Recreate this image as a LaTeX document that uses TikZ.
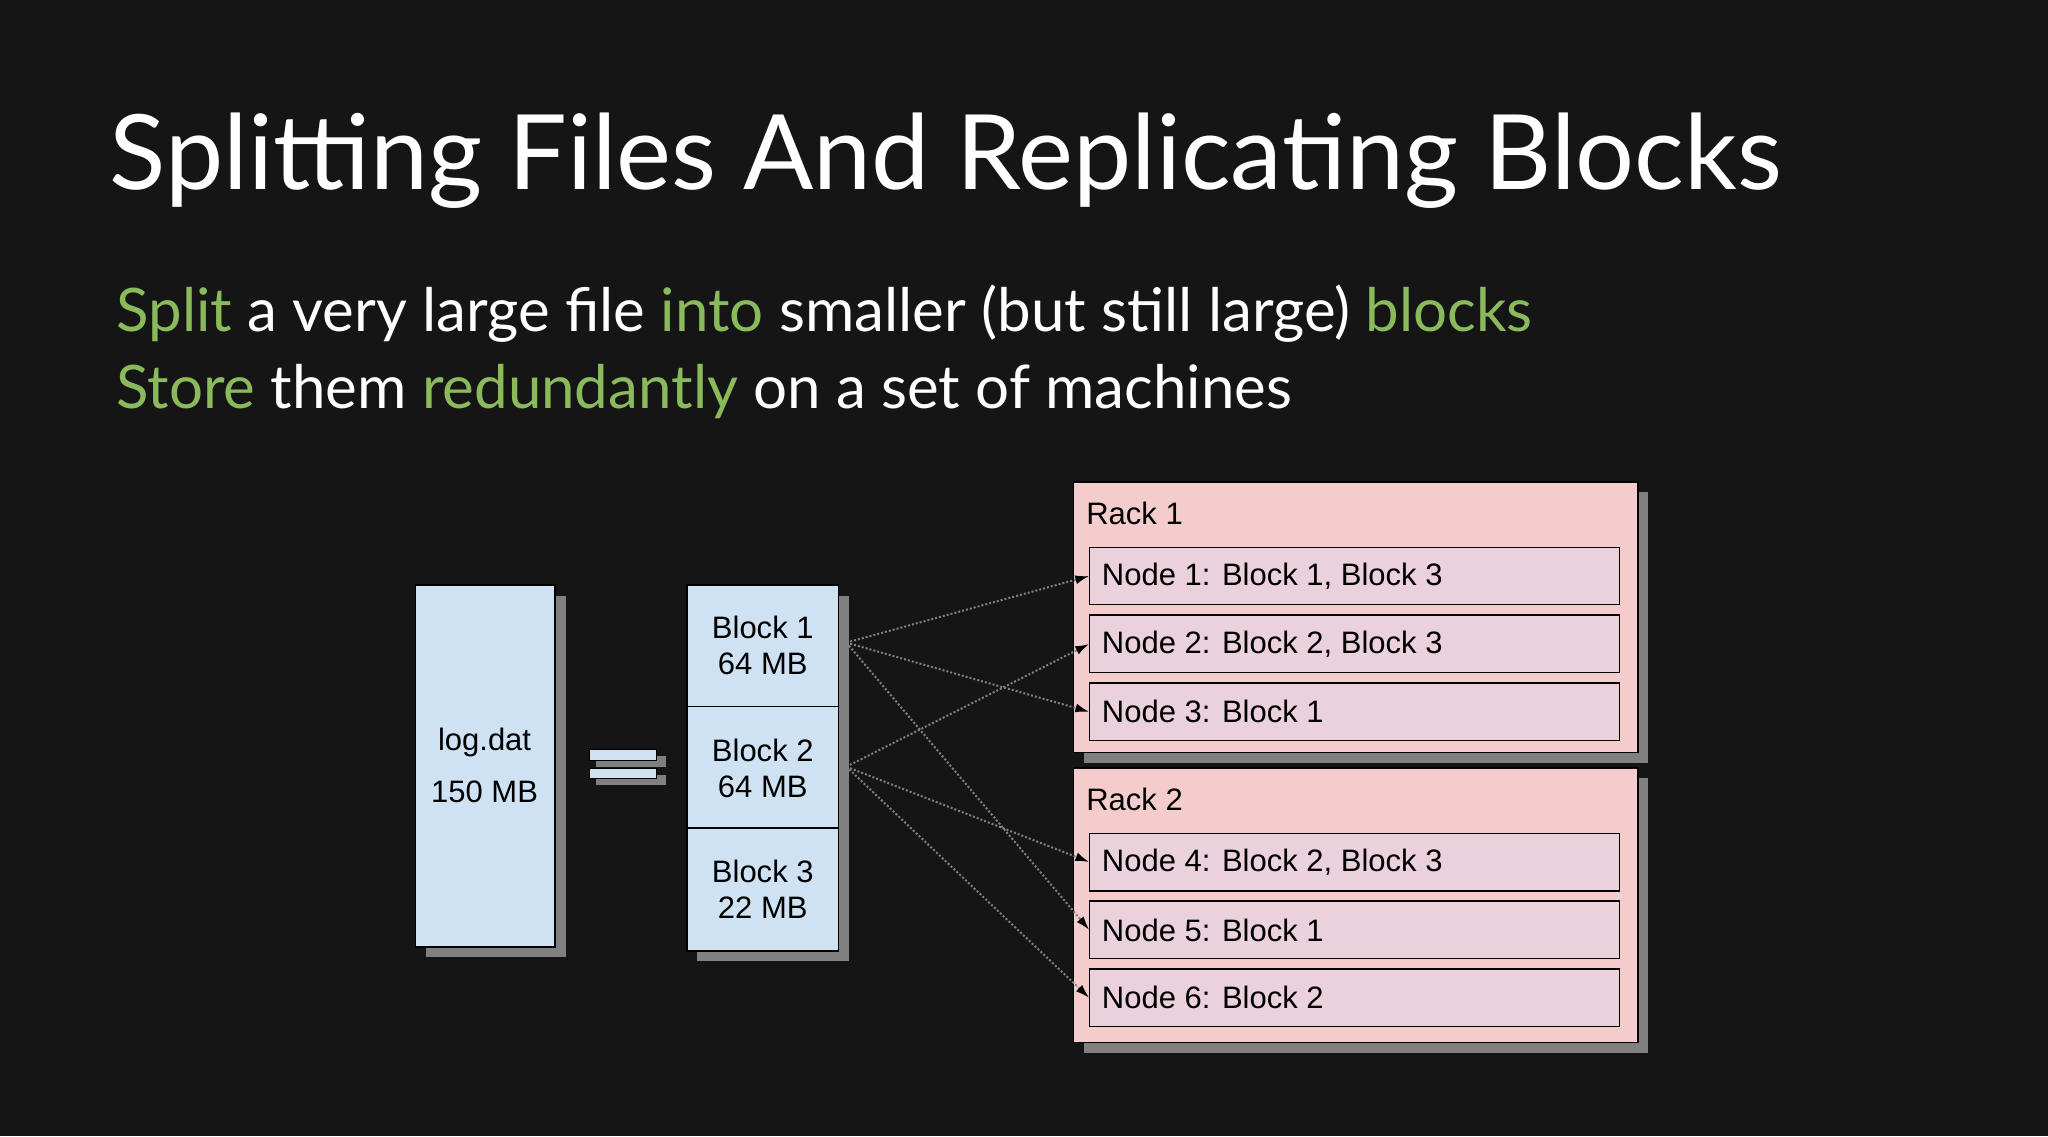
\documentclass[tikz,border=0pt]{standalone}
\usepackage{fontspec}
\setmainfont{Lato}
\newfontfamily\arial{Liberation Sans}
\usetikzlibrary{arrows.meta}
\definecolor{bg}{RGB}{21,21,22}
\definecolor{grn}{RGB}{139,186,92}
\definecolor{lblue}{RGB}{207,226,243}
\definecolor{rpink}{RGB}{244,204,204}
\definecolor{npink}{RGB}{234,209,220}
\definecolor{shd}{RGB}{128,128,128}
\tikzset{
 sbox/.style={draw=black,line width=1.5pt,inner sep=0pt,anchor=north west},
 lbl/.style={font=\arial\fontsize{31}{36}\selectfont,text=black},
 conn/.style={draw=shd,dotted,line width=2pt,-{Latex[length=14pt,width=9pt,black]}}
}
\begin{document}
\begin{tikzpicture}[x=1.306pt,y=-1.306pt]
\fill[bg] (0,0) rectangle (1568,870);
\useasboundingbox (0,0) rectangle (1568,870);
\node[anchor=base west,text=white,font=\fontsize{104}{110}\selectfont,inner sep=0pt] (title) at (84,145) {Splitting Files And Replicating Blocks};
\node[anchor=base west,text=white,font=\fontsize{60}{66}\selectfont,inner sep=0pt] (l1) at (89,254) {\textcolor{grn}{Split} a very large file \textcolor{grn}{into} smaller (but still large) \textcolor{grn}{blocks}};
\node[anchor=base west,text=white,font=\fontsize{60}{66}\selectfont,inner sep=0pt] (l2) at (89,313) {\textcolor{grn}{Store} them \textcolor{grn}{redundantly} on a set of machines};
% shadows
\fill[shd] (326,456) rectangle (433,733);
\fill[shd] (534,456) rectangle (650,736);
\fill[shd] (830,377) rectangle (1262,584);
\fill[shd] (830,596) rectangle (1262,806);
\fill[shd] (456,579) rectangle (510,587);
\fill[shd] (456,593) rectangle (510,601);
% log.dat
\draw[fill=lblue,line width=1.5pt] (318,448) rectangle (425,725);
\node[lbl,align=center] (log) at (371,586) {log.dat\\[16pt]150 MB};
% equals
\draw[fill=lblue,line width=1pt] (451,574) rectangle (503,582);
\draw[fill=lblue,line width=1pt] (451,588) rectangle (503,596);
% blocks
\draw[fill=lblue,line width=1.5pt] (526,448) rectangle (642,541);
\draw[fill=lblue,line width=1.5pt] (526,541) rectangle (642,634);
\draw[fill=lblue,line width=1.5pt] (526,634) rectangle (642,728);
\node[lbl,align=center] (b1) at (584,494) {Block 1\\64 MB};
\node[lbl,align=center] (b2) at (584,588) {Block 2\\64 MB};
\node[lbl,align=center] (b3) at (584,681) {Block 3\\22 MB};
\coordinate (s1) at (648,492);
\coordinate (s2) at (648,587);
% racks
\draw[fill=rpink,line width=1.5pt] (822,369) rectangle (1254,576);
\draw[fill=rpink,line width=1.5pt] (822,588) rectangle (1254,798);
\node[lbl,anchor=west] (r1) at (829,393) {Rack 1};
\node[lbl,anchor=west] (r2) at (829,612) {Rack 2};
\foreach \n/\y/\t in {n1/419/{Node 1: Block 1, Block 3},n2/471/{Node 2: Block 2, Block 3},n3/523/{Node 3: Block 1},n4/638/{Node 4: Block 2, Block 3},n5/690/{Node 5: Block 1},n6/742/{Node 6: Block 2}}{
 \draw[fill=npink,line width=1.5pt] (834,\y) rectangle (1240,\y+44);
 \coordinate (\n) at (834,\y+22);
 \node[lbl,anchor=west] (\n t) at (841,\y+22) {\t};
}
\draw[conn] (s1) -- (n1);
\draw[conn] (s1) -- (n3);
\draw[conn] (s1) -- (n5);
\draw[conn] (s2) -- (n2);
\draw[conn] (s2) -- (n4);
\draw[conn] (s2) -- (n6);
\end{tikzpicture}
\end{document}
